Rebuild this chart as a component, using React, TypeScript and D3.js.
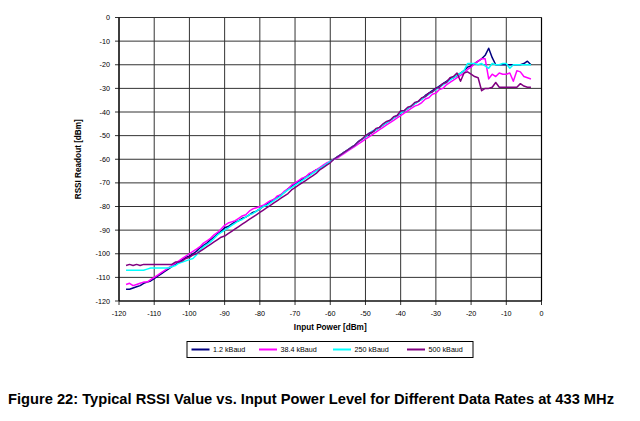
import React from "react";
import * as d3 from "d3";

const inputPower: number[] = d3.range(-118, -2, 1);

const baud1_2: number[] = [
  -115, -115, -114.5, -114, -113.5, -112.5, -112, -111.5, -110.5, -109.5,
  -108.5, -107.5, -106.5, -105.5, -104.5, -103.5, -102.5, -101.5, -101, -100,
  -99, -97.5, -96.5, -95.5, -94, -93, -91.5, -90.5, -89, -88.5,
  -87.5, -86.5, -86, -85, -84.5, -83.5, -82.5, -82, -81, -80,
  -79, -78, -77, -76, -75, -74, -72.5, -71.5, -70.5, -69.5,
  -68.5, -67.5, -66.5, -65.5, -64.5, -64, -63, -62, -61, -60,
  -59, -58, -57, -56, -55, -54, -52.5, -51.5, -50.5, -49.5,
  -48.5, -47.5, -46.5, -45.5, -44.5, -43.5, -42.5, -41.5, -40.5, -39.5,
  -38.5, -37.5, -36.5, -35.5, -34.5, -33, -32, -31, -30, -29,
  -28, -27, -26, -25.5, -24.5, -23.5, -22.5, -21, -20.5, -19.5,
  -18.5, -17.5, -16, -13, -17, -20, -20, -20, -20, -20,
  -20, -20, -20, -19.5, -18.5, -20,
];

const baud38_4: number[] = [
  -113, -112.5, -113.5, -113, -112.5, -112, -112, -111, -110, -109,
  -108, -107, -106, -105, -104, -103, -102, -101, -100, -99,
  -98, -97, -95.5, -94.5, -93.5, -92, -91, -89.5, -88, -87,
  -86.5, -86, -85, -84, -83.5, -82, -81, -80.5, -80, -79.5,
  -78.5, -77.5, -77, -75.5, -75, -73.5, -72.5, -71, -70, -69,
  -68, -67.5, -66, -65.5, -64.5, -63.5, -62.5, -61.5, -61, -60,
  -59.5, -58.5, -57.5, -56.5, -55.5, -54.5, -53.5, -52.5, -51.5, -50.5,
  -49.5, -48.5, -47.5, -46.5, -45.5, -44.5, -43.5, -42.5, -41.5, -40.5,
  -39.5, -38.5, -37.5, -37, -36, -34.5, -34, -32.5, -32, -30.5,
  -30, -28.5, -27.5, -26.5, -25.5, -24.5, -23.5, -22, -21, -19.5,
  -18.5, -17.5, -17.5, -26, -24, -25, -23.5, -24, -24, -23.5,
  -27, -22.5, -23, -25, -25.5, -26,
];

const baud250: number[] = [
  -107, -107, -107, -107, -107, -107, -106.5, -106, -106, -106,
  -106, -106, -106, -105.5, -105, -104, -103.5, -103, -102.5, -102,
  -100.5, -98.5, -97, -96, -95, -93.5, -92, -91, -90, -89,
  -88, -87, -86, -85.5, -84.5, -83.5, -83, -82, -81, -80,
  -79.5, -78.5, -77.5, -76.5, -75.5, -74, -73, -72, -71, -70,
  -69, -68, -67, -66, -65, -64, -63, -62, -61, -60,
  -59, -58, -57, -56, -55, -54, -52.5, -51.5, -50.5, -49,
  -48, -47.5, -46.5, -45.5, -44.5, -43.5, -42.5, -41.5, -40.5, -39.5,
  -38.5, -37.5, -36.5, -35.5, -34.5, -33.5, -32.5, -31.5, -30.5, -29.5,
  -28.5, -27.5, -26.5, -25.5, -24.5, -23.5, -22.5, -19.5, -19.5, -19.5,
  -20, -19.5, -20.5, -21.5, -19.5, -20, -20, -19.5, -19.5, -21.5,
  -20, -20, -20, -20, -20, -20,
];

const baud500: number[] = [
  -105, -104.5, -105, -104.5, -105, -104.5, -104.5, -104.5, -104.5, -104.5,
  -104.5, -104.5, -104.5, -104.5, -103.5, -103.5, -103, -102, -101.5, -100.5,
  -100, -99, -98, -97, -96, -95, -94, -93, -92.5, -91.5,
  -90.5, -89.5, -88.5, -87.5, -86.5, -85.5, -84.5, -83.5, -82.5, -81.5,
  -80.5, -79.5, -78.5, -77.5, -76.5, -75.5, -74.5, -73, -72, -71,
  -70, -69, -68, -67, -66, -64.5, -63.5, -62.5, -61.5, -60,
  -59, -58, -57, -56, -55, -54, -52.5, -51.5, -50, -49,
  -48.5, -47, -46.5, -45, -44, -43.5, -42, -41.5, -39.5, -39.5,
  -38, -37.5, -36, -35.5, -34, -33.5, -32, -31.5, -30, -29.5,
  -28, -27.5, -25.5, -25, -23.5, -27, -23.5, -23, -24, -25,
  -25.5, -31, -30, -30, -29.5, -27.5, -29.5, -29.5, -29.5, -29.5,
  -29.5, -29.5, -28, -29, -29.5, -29.5,
];

const seriesNames: string[] = ["1.2 kBaud", "38.4 kBaud", "250 kBaud", "500 kBaud"];
const seriesColors: string[] = ["#000080", "#FF00FF", "#00FFFF", "#800080"];
const seriesData: number[][] = [baud1_2, baud38_4, baud250, baud500];

const xTicks: number[] = d3.range(-120, 1, 10);
const yTicks: number[] = d3.range(-120, 1, 10);

const xTitle = "Input Power [dBm]";
const yTitle = "RSSI Readout [dBm]";
const caption =
  "Figure 22: Typical RSSI Value vs. Input Power Level for Different Data Rates at 433 MHz";

const FONT = "'Liberation Sans', Arial, sans-serif";

export default function App() {
  const left = 119;
  const right = 541.5;
  const top = 17.5;
  const bottom = 301;

  const x = d3.scaleLinear().domain([-120, 0]).range([left, right]);
  const y = d3.scaleLinear().domain([-120, 0]).range([bottom, top]);

  const line = d3
    .line<[number, number]>()
    .x((d) => x(d[0]))
    .y((d) => y(d[1]));

  const legendItemsX = [191.5, 259, 333, 407];

  return (
    <svg
      width={640}
      height={421}
      style={{ position: "absolute", left: 0, top: 0, background: "#fff" }}
      fontFamily={FONT}
    >
      <rect x={0} y={0} width={640} height={421} fill="#fff" />
      {/* grid */}
      {xTicks.map((t) => (
        <line
          key={"gx" + t}
          x1={x(t)}
          x2={x(t)}
          y1={top}
          y2={bottom + 4}
          stroke="#333"
          strokeWidth={1}
        />
      ))}
      {yTicks.map((t) => (
        <line
          key={"gy" + t}
          x1={left - 4}
          x2={right}
          y1={y(t)}
          y2={y(t)}
          stroke="#333"
          strokeWidth={1}
        />
      ))}
      <line x1={left} x2={left} y1={top} y2={bottom} stroke="#000" strokeWidth={1.2} />
      <line x1={left} x2={right} y1={bottom} y2={bottom} stroke="#000" strokeWidth={1.2} />
      <line x1={right} x2={right} y1={top} y2={bottom} stroke="#000" strokeWidth={1.2} />

      {/* tick labels */}
      {yTicks.map((t) => (
        <text
          key={"ly" + t}
          x={left - 9}
          y={y(t)}
          dy="0.35em"
          textAnchor="end"
          fontSize={7.2}
          fill="#000"
        >
          {t}
        </text>
      ))}
      {xTicks.map((t) => (
        <text
          key={"lx" + t}
          x={x(t)}
          y={bottom + 12.5}
          dy="0.35em"
          textAnchor="middle"
          fontSize={7.2}
          fill="#000"
        >
          {t}
        </text>
      ))}

      {/* series */}
      {seriesData.map((vals, i) => (
        <path
          key={seriesNames[i]}
          d={line(inputPower.map((p, j) => [p, vals[j]] as [number, number])) || ""}
          fill="none"
          stroke={seriesColors[i]}
          strokeWidth={1.5}
          strokeLinejoin="round"
        />
      ))}

      {/* axis titles */}
      <text
        x={(left + right) / 2}
        y={327}
        dy="0.35em"
        textAnchor="middle"
        fontSize={8.2}
        fontWeight="bold"
        fill="#000"
      >
        {xTitle}
      </text>
      <text
        transform={`translate(78, ${(top + bottom) / 2}) rotate(-90)`}
        textAnchor="middle"
        dy="0.35em"
        fontSize={8.2}
        fontWeight="bold"
        fill="#000"
      >
        {yTitle}
      </text>

      {/* legend */}
      <rect x={187} y={341.5} width={286} height={16} fill="#fff" stroke="#000" strokeWidth={1} />
      {seriesNames.map((n, i) => (
        <g key={"lg" + n}>
          <line
            x1={legendItemsX[i]}
            x2={legendItemsX[i] + 18}
            y1={349.5}
            y2={349.5}
            stroke={seriesColors[i]}
            strokeWidth={2}
          />
          <text
            x={legendItemsX[i] + 21.5}
            y={349.5}
            dy="0.35em"
            fontSize={7.2}
            fill="#000"
          >
            {n}
          </text>
        </g>
      ))}

      {/* caption */}
      <text
        x={8}
        y={403.5}
        fontSize={14}
        fontWeight="bold"
        fill="#000"
        textLength={606}
        lengthAdjust="spacingAndGlyphs"
      >
        {caption}
      </text>
    </svg>
  );
}
